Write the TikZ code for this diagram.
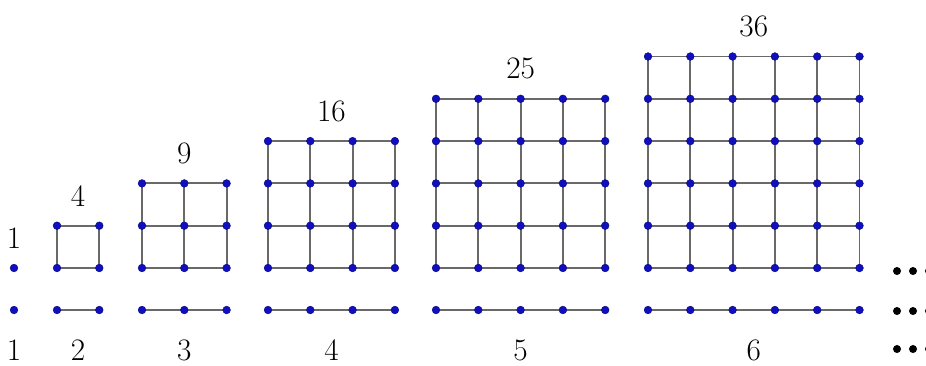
\documentclass[tikz,border=0pt]{standalone}
\usepackage{tikz}
\usetikzlibrary{backgrounds}
\definecolor{dotblue}{RGB}{15,15,190}
\definecolor{edgegray}{RGB}{105,105,105}

\begin{document}
\begin{tikzpicture}[x=0.02364cm, y=-0.02364cm, font=\fontsize{21}{25}\selectfont,
  dot/.style={circle, fill=dotblue, draw=dotblue!70!black, line width=0.3pt, inner sep=0pt, minimum size=5.2pt},
  bigdot/.style={circle, fill=black, inner sep=0pt, minimum size=5.4pt},
  edge/.style={edgegray, line width=1.25pt},
  lbl/.style={inner sep=0pt}]
\useasboundingbox (0,0) rectangle (926,365);
\foreach \n/\x in {1/14, 2/57, 3/142, 4/268, 5/436, 6/648} {
  % n x n square of dots and a row of n dots under it
  \foreach \i in {1,...,\n} {
    \foreach \j in {1,...,\n}
      \node[dot] (Sq\n-\i-\j) at ({\x+(\i-1)*42.3},{268-(\j-1)*42.3}) {};
    \node[dot] (Row\n-\i) at ({\x+(\i-1)*42.3},310) {};
  }
  \ifnum\n>1
  \begin{pgfonlayer}{background}
    \foreach \k in {1,...,\n} {
      \draw[edge] (Sq\n-1-\k.center) \foreach \i in {2,...,\n} {-- (Sq\n-\i-\k.center)};
      \draw[edge] (Sq\n-\k-1.center) \foreach \j in {2,...,\n} {-- (Sq\n-\k-\j.center)};
    }
    \draw[edge] (Row\n-1.center) \foreach \i in {2,...,\n} {-- (Row\n-\i.center)};
  \end{pgfonlayer}
  \fi
  \node[lbl] (Area\n) at ({\x+(\n-1)*21.15},{268-(\n-1)*42.3-30}) {\the\numexpr\n*\n\relax};
  \node[lbl] (Side\n) at ({\x+(\n-1)*21.15},350) {\n};
}
% dots going on
\foreach \y [count=\r] in {271, 311, 349}
  \foreach \x [count=\c] in {897, 913, 929}
    \node[bigdot] (More\r-\c) at (\x,\y) {};
\end{tikzpicture}
\end{document}
